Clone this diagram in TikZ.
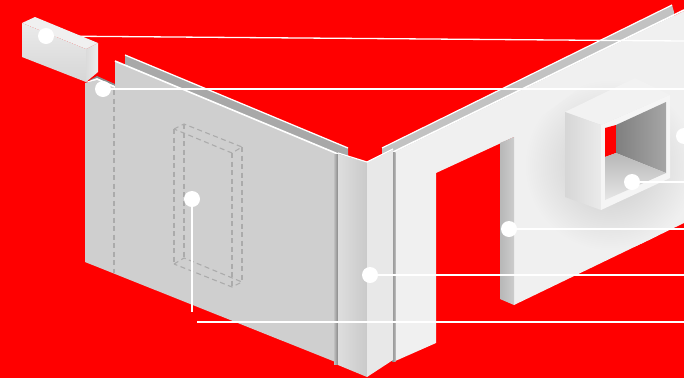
\documentclass[tikz,border=0pt]{standalone}
\tikzset{
  px/.style={x=1pt,y=-1pt},
  dot/.style={circle,fill=white,inner sep=0pt,minimum size=16pt,draw=none},
  leader/.style={draw=white,line width=1.3pt},
  hidden/.style={draw=black!33,line width=1.1pt,dash pattern=on 5pt off 3.5pt},
}
\definecolor{bgred}{RGB}{255,0,0}
\begin{document}
\begin{tikzpicture}[px]
\useasboundingbox (0,0) rectangle (684,378);
\fill[bgred] (0,0) rectangle (684,378);
% left wall rail
\fill[black!34] (125,55) -- (348,148) -- (348,160) -- (125,70) -- cycle;
\draw[white,line width=1.3pt] (125,55) -- (348,148);
% notch strip
\fill[black!45] (90,80) -- (97,76) -- (115,84) -- (115,90) -- cycle;
\fill[white] (86,82) -- (97,78) -- (115,86) -- (115,90) -- cycle;
% left wall
\fill[white!81!black] (85,83) -- (97,80) -- (115,88) -- (115,61) -- (338,154) -- (338,363) -- (85,262) -- cycle;
\draw[white,line width=1.6pt] (115,61) -- (338,154);
\draw[hidden] (114,90) -- (114,273);
\draw[hidden] (174,129) -- (184,124) -- (242,147) -- (232,153) -- cycle;
\draw[hidden] (174,264) -- (184,258) -- (242,282) -- (232,287) -- cycle;
\draw[hidden] (174,129) -- (174,264) (184,124) -- (184,258) (242,147) -- (242,282) (232,153) -- (232,287);
% right wall rail
\fill[black!24] (382,148) -- (672,5) -- (674,12) -- (674,18) -- (382,162) -- cycle;
\draw[white,line width=1.2pt] (382,148) -- (672,5);
% right wall
\fill[white!94!black] (393,153) -- (684,11) -- (684,223) -- (514,305) -- (514,137) -- (436,173) -- (436,343) -- (393,362) -- cycle;
\begin{scope}
\clip (514,137) -- (684,11) -- (684,223) -- (514,305) -- cycle;
\shade[inner color=white!78!black,outer color=white!94!black] (610,165) circle (85);
\end{scope}
\draw[white,line width=1.6pt] (393,152) -- (684,10);
% door reveal
\shade[left color=white!72!black,right color=white!80!black] (500,143) -- (514,137) -- (514,305) -- (500,299) -- cycle;
% corner piece
\shade[left color=black!25,right color=black!50] (334,154) rectangle (338.5,364);
\shade[left color=black!50,right color=black!25] (392,152) rectangle (395.5,361);
\shade[left color=white!87!black,right color=white!79!black] (338,154) -- (367,162) -- (367,377) -- (338,365) -- cycle;
\fill[white!91!black] (367,162) -- (393,150) -- (393,360) -- (367,377) -- cycle;
\draw[white,line width=1.2pt] (338,153) -- (367,162) -- (393,149);
% box
\fill[white!95!black] (565,112) -- (635,78) -- (670,95) -- (601,125) -- cycle;
\shade[left color=white!84!black,right color=white!92!black] (565,112) -- (601,125) -- (601,210) -- (565,197) -- cycle;
\fill[white!96!black] (601,125) -- (670,95) -- (670,178) -- (601,210) -- cycle;
\fill[bgred] (605,128) -- (616,125) -- (616,153) -- (605,157) -- cycle;
\shade[left color=white!50!black,right color=white!65!black] (616,125) -- (666,102) -- (666,173) -- (616,153) -- cycle;
\shade[top color=white!72!black,bottom color=white!90!black] (605,157) -- (616,153) -- (666,173) -- (605,200) -- cycle;
% leaders and dots
\node[dot] (a) at (46,36) {};
\coordinate (a1) at (684,41);
\draw[leader] (a) -- (a1);
% block, in front of its leader
\fill[white!94!black] (22,23) -- (35,17) -- (98,43) -- (86,49) -- cycle;
\shade[top color=white!92!black,bottom color=white!84!black] (22,23) -- (86,49) -- (86,82) -- (22,57) -- cycle;
\shade[left color=white!86!black,right color=white!93!black] (86,49) -- (98,43) -- (98,72) -- (86,82) -- cycle;
\node[dot] at (a) {};
\node[dot] (b) at (103,89) {};
\node[dot] (c) at (192,199) {};
\node[dot] (d) at (370,275) {};
\node[dot] (e) at (509,229) {};
\node[dot] (f) at (632,182) {};
\node[dot] (g) at (684,136) {};
\coordinate (b1) at (684,89);
\coordinate (c1) at (192,312);
\coordinate (d1) at (684,275);
\coordinate (e1) at (684,229);
\coordinate (f1) at (684,182);
\coordinate (h0) at (197,322);
\coordinate (h1) at (684,322);
\draw[leader] (b) -- (b1);
\draw[leader] (c) -- (c1);
\draw[leader] (d) -- (d1);
\draw[leader] (e) -- (e1);
\draw[leader] (f) -- (f1);
\draw[leader] (h0) -- (h1);
\end{tikzpicture}
\end{document}
